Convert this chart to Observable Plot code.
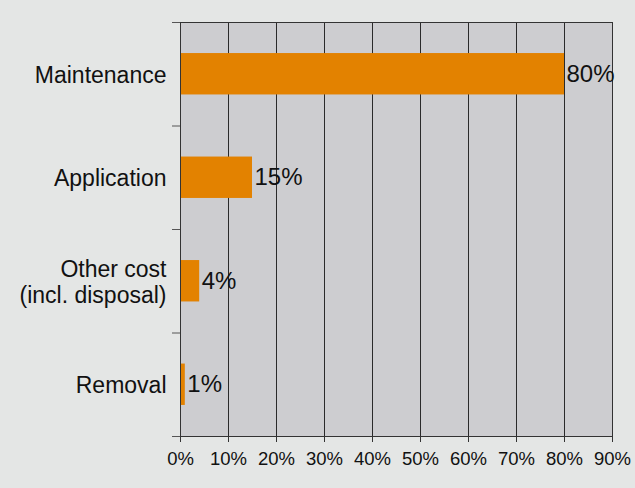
<!DOCTYPE html>
<html>
<head>
<meta charset="utf-8">
<script src="https://cdn.jsdelivr.net/npm/d3@7"></script>
<script src="https://cdn.jsdelivr.net/npm/@observablehq/plot@0.6"></script>
<style>
  html, body { margin: 0; padding: 0; background: #e4e6e5; }
  #chart svg { display: block; }
</style>
</head>
<body>
<div id="chart"></div>
<script>
const categories = ["Maintenance", "Application", "Other cost\n(incl. disposal)", "Removal"];
const values = [80, 15, 4, 1];
const valueLabels = ["80%", "15%", "4%", "1%"];
const xTicks = [0, 10, 20, 30, 40, 50, 60, 70, 80, 90];

const data = categories.map((c, i) => ({i, name: c, value: values[i], label: valueLabels[i]}));
const halfBar = 0.2;
const boundaries = d3.range(categories.length + 1).map(k => k - 0.5);

const chart = Plot.plot({
  width: 635,
  height: 488,
  marginLeft: 180,
  marginRight: 23,
  marginTop: 22,
  marginBottom: 52,
  style: {background: "#e4e6e5", fontFamily: "'Liberation Sans', Arial, sans-serif", color: "#111"},
  x: {domain: [0, 90], label: null},
  y: {domain: [categories.length - 0.5, -0.5], label: null},
  marks: [
    Plot.frame({fill: "#cdcdd0", stroke: "none"}),
    Plot.ruleX(xTicks, {stroke: "#2a2a2a", strokeWidth: 1}),
    Plot.rectX(data, {x1: 0, x2: "value", y1: d => d.i - halfBar, y2: d => d.i + halfBar, fill: "#e38200"}),
    Plot.frame({stroke: "#333", fill: "none"}),
    Plot.text(data, {x: "value", y: "i", text: "label", dx: 2, textAnchor: "start", fontSize: 24, fill: "#111"}),
    Plot.axisY({ticks: boundaries, tickSize: 8, tickFormat: () => "", stroke: "#555", label: null}),
    Plot.axisY({ticks: d3.range(categories.length), tickSize: 0, tickPadding: 14, tickFormat: i => categories[i], fontSize: 23, lineHeight: 1.13, fill: "#111", label: null}),
    Plot.axisX({ticks: xTicks, tickSize: 6, tickPadding: 9, tickFormat: d => d + "%", fontSize: 18.5, fill: "#111", stroke: "#333", label: null})
  ]
});
document.getElementById("chart").appendChild(chart);
</script>
</body>
</html>
